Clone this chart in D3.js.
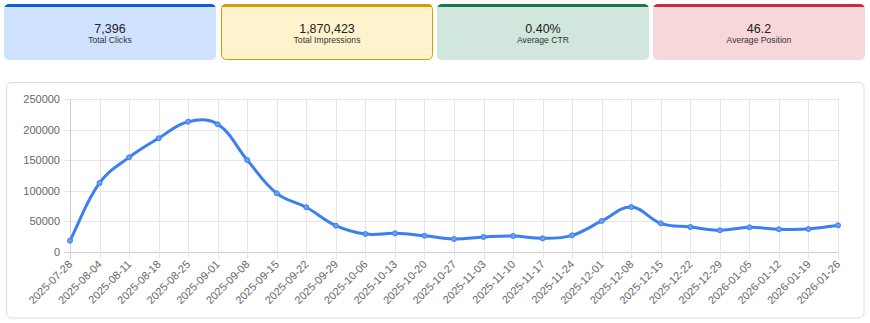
<!DOCTYPE html>
<html>
<head>
<meta charset="utf-8">
<script src="https://cdn.jsdelivr.net/npm/d3@7"></script>
<style>
  html, body { margin: 0; padding: 0; background: #fff; }
  body { width: 870px; height: 323px; overflow: hidden; font-family: "Liberation Sans", Arial, Helvetica, sans-serif; }
  svg { display: block; }
</style>
</head>
<body>
<svg id="chart" width="870" height="323"></svg>
<script>
// ---- Data ----
const cardValues = ["7,396", "1,870,423", "0.40%", "46.2"];
const cardLabels = ["Total Clicks", "Total Impressions", "Average CTR", "Average Position"];
const cardFills = ["#cfe2ff", "#fff3cd", "#d1e7dd", "#f8d7da"];
const cardAccents = ["#0d5fd6", "#d39a0a", "#177a4a", "#c0303f"];

const weeks = ["2025-07-28","2025-08-04","2025-08-11","2025-08-18","2025-08-25","2025-09-01","2025-09-08",
  "2025-09-15","2025-09-22","2025-09-29","2025-10-06","2025-10-13","2025-10-20","2025-10-27","2025-11-03",
  "2025-11-10","2025-11-17","2025-11-24","2025-12-01","2025-12-08","2025-12-15","2025-12-22","2025-12-29",
  "2026-01-05","2026-01-12","2026-01-19","2026-01-26"];
const impressions = [18000,112500,154500,185700,212800,208600,150100,95600,72700,42600,29000,30100,26200,
  20800,24100,25700,21900,26800,50300,73200,46500,40400,35000,39900,36700,37200,43200];
const yTicks = [0,50000,100000,150000,200000,250000];

// ---- Layout ----
const svg = d3.select("#chart");

// KPI cards
const cardX = [4, 221, 437, 653];
const cardW = 212, cardY = 4, cardH = 56;
const cards = svg.selectAll("g.card").data(cardValues).enter().append("g").attr("class","card")
  .attr("transform", (d,i) => `translate(${cardX[i]},${cardY})`);
const clipDefs = svg.append("defs");
cardValues.forEach((d,i) => {
  clipDefs.append("clipPath").attr("id","cc"+i)
    .append("rect").attr("width",cardW).attr("height",cardH).attr("rx",5).attr("ry",5);
});
cards.append("g").attr("clip-path",(d,i)=>`url(#cc${i})`).each(function(d,i){
  const g = d3.select(this);
  g.append("rect").attr("width",cardW).attr("height",cardH).attr("fill",cardFills[i]);
  g.append("rect").attr("width",cardW).attr("height",3).attr("fill",cardAccents[i]);
});
cards.filter((d,i)=>i===1).append("rect")
  .attr("x",0.5).attr("y",0.5).attr("width",cardW-1).attr("height",cardH-1)
  .attr("rx",5).attr("ry",5).attr("fill","none").attr("stroke","#d39a0a").attr("stroke-width",1);
cards.append("text").attr("x",cardW/2).attr("y",28.5).attr("text-anchor","middle")
  .attr("font-size",12.5).attr("fill","#222").text(d=>d);
cards.append("text").attr("x",cardW/2).attr("y",39.2).attr("text-anchor","middle")
  .attr("font-size",8.6).attr("fill","#333").text((d,i)=>cardLabels[i]);

// Chart container
svg.append("rect").attr("x",6.5).attr("y",82.5).attr("width",857.5).attr("height",235.5)
  .attr("rx",5).attr("ry",5).attr("fill","#fff").attr("stroke","#dcdcdc").attr("stroke-width",1);

const x = d3.scalePoint().domain(weeks).range([70, 838]);
const y = d3.scaleLinear().domain([0, 250000]).range([251.7, 99]);

const grid = svg.append("g");
grid.selectAll("line.h").data(yTicks).enter().append("line")
  .attr("x1",64).attr("x2",838).attr("y1",d=>Math.round(y(d))+0.5).attr("y2",d=>Math.round(y(d))+0.5)
  .attr("stroke",d=>d===0?"#cfcfcf":"#e6e6e6").attr("stroke-width",1);
grid.selectAll("line.v").data(weeks).enter().append("line")
  .attr("x1",d=>Math.round(x(d))+0.5).attr("x2",d=>Math.round(x(d))+0.5)
  .attr("y1",99).attr("y2",259)
  .attr("stroke",(d,i)=>i===0?"#cfcfcf":"#e6e6e6").attr("stroke-width",1);

// y labels
svg.append("g").selectAll("text").data(yTicks).enter().append("text")
  .attr("x",60).attr("y",d=>y(d)+4).attr("text-anchor","end")
  .attr("font-size",11).attr("fill","#666").text(d=>d);

// x labels
svg.append("g").selectAll("text").data(weeks).enter().append("text")
  .attr("transform",d=>`translate(${x(d)+3},${265}) rotate(-45)`)
  .attr("text-anchor","end").attr("font-size",11).attr("fill","#666").text(d=>d);

// Chart.js-style spline (tension 0.4)
const pts = weeks.map((w,i)=>({x:x(w), y:y(impressions[i])}));
const tension = 0.4;
const cps = pts.map((p,i)=>{
  const prev = pts[Math.max(0,i-1)], next = pts[Math.min(pts.length-1,i+1)];
  const d01 = Math.hypot(p.x-prev.x, p.y-prev.y);
  const d12 = Math.hypot(next.x-p.x, next.y-p.y);
  let s01 = d01/(d01+d12), s12 = d12/(d01+d12);
  s01 = isNaN(s01)?0:s01; s12 = isNaN(s12)?0:s12;
  const fa = tension*s01, fb = tension*s12;
  return {
    px: p.x - fa*(next.x-prev.x), py: p.y - fa*(next.y-prev.y),
    nx: p.x + fb*(next.x-prev.x), ny: p.y + fb*(next.y-prev.y)
  };
});
const path = d3.path();
path.moveTo(pts[0].x, pts[0].y);
for (let i=1;i<pts.length;i++){
  path.bezierCurveTo(cps[i-1].nx, cps[i-1].ny, cps[i].px, cps[i].py, pts[i].x, pts[i].y);
}
svg.append("path").attr("d",path.toString()).attr("fill","none")
  .attr("stroke","#3b7ff2").attr("stroke-width",3).attr("stroke-linejoin","round");

svg.append("g").selectAll("circle").data(impressions).enter().append("circle")
  .attr("cx",(d,i)=>x(weeks[i])).attr("cy",d=>y(d)).attr("r",2.5)
  .attr("fill","#6a9ff5").attr("stroke","#3b7ff2").attr("stroke-width",1);
</script>
</body>
</html>
